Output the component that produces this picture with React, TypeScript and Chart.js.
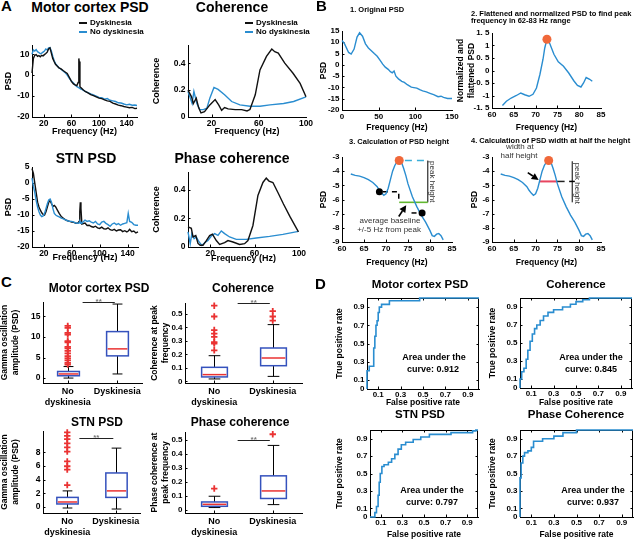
import React, { useEffect, useRef } from 'react';
import { Chart, registerables } from 'chart.js';

Chart.register(...registerables);

const FONT = '"Liberation Sans", Arial, Helvetica, sans-serif';
Chart.defaults.font.family = FONT;

const BLUE = '#2a8dd0';
const BLACK = '#111111';
const BOX_BLUE = '#3552bd';
const RED = '#ea3232';
const ORANGE = '#f0683a';

/* ---------------- Panel A data ---------------- */
const A_FREQ = [3,5,7,9,11,13,15,17,19,21,23,25,27,29,31,33,35,37,39,42,45,48,51,54,57,60,63,66,68,69.8,70.8,71.4,72.4,74,77,80,84,88,92,96,100,104,108,112,116,120,124,128,132,136,140,144,148,152,155];
const MC_DYSK = [1,8,9.5,9.8,9,9.3,8.8,9.5,9.2,9.8,10.3,11,12.5,13,10.5,8,6.5,5.2,4.5,3.5,3,2.2,1.5,0.8,-1,-3,-4.2,-4.8,-5,-3.5,8,6.5,-5.5,-6,-7,-7.8,-8.5,-9.3,-9.8,-10.4,-11,-11.2,-11.8,-12.3,-12.5,-13.4,-13.8,-14.3,-14.6,-15,-15.3,-15.6,-15.4,-16,-15.8];
const MC_NODYSK = [10,12,11.5,12.2,11.2,10.8,10.2,10.5,11,11.5,12.5,12,13,13.2,11.5,9,7,5.5,4.8,3.5,2.8,2,1.2,0,-1.5,-2.8,-3.8,-5,-5.5,-5.8,-6,-6.1,-6.4,-6.6,-7.2,-7.8,-8.4,-9,-9.4,-10,-10.6,-10.8,-11.5,-11.2,-12,-12.3,-12.6,-13.2,-13.3,-13.8,-14.2,-13.9,-14.4,-14.3,-14.5];

const STN_FREQ = [3,5,7,9,11,13,15,17,19,21,23,25,27,29,31,33,35,37,39,42,45,48,51,54,57,60,63,66,69,70.5,71.5,72.3,73.2,74.5,79,82,85,88,91,94,97,100,103,106,109,112,115,118,121,124,127,130,133,136,139,141,143,146,149,152,155];
const STN_DYSK = [4.5,3,0,-3,-6,-7.5,-8.5,-9.3,-9.8,-10,-9,-7.5,-6,-5.5,-6.5,-7.3,-7,-7.5,-8.3,-9.5,-10.5,-11,-11.5,-11.8,-12,-12.2,-12.3,-12.6,-12.5,-12,-9,-6,-8,-12.8,-12.5,-13.3,-13.2,-13.6,-13.8,-13.5,-14,-14.2,-13.8,-14.3,-14.4,-14,-14.6,-14.8,-14.5,-15,-14.7,-14.6,-15.2,-14.9,-15.3,-15,-14.5,-15.2,-15,-15.6,-15.3];
const STN_NODYSK = [1.5,-1,-3,-5.5,-7.5,-9,-10,-10.5,-10.3,-9.5,-8,-6.5,-5.3,-5,-6,-8,-9.5,-10,-10.3,-10.6,-11,-11.2,-11.5,-11.8,-12,-12,-12.2,-12.5,-12.6,-12.4,-12.2,-12.6,-12.3,-12.6,-11.6,-12,-11.8,-12.2,-12.5,-12,-12.8,-13,-12.2,-12,-12.6,-13,-13.5,-12.8,-12.5,-13,-12.7,-13.2,-12.8,-12.6,-12.4,-9.5,-12,-12.3,-13,-13.2,-13.2];

const COH_D_FREQ = [0,3,4.5,7,9,11,14,18.5,23,26,28.5,31,34,40,45.5,50,52.5,57,61,66.5,71,73.5,76.5,82,89,95,100];
const COH_D = [0.2,0.15,0.1,0.14,0.07,0.03,0.04,0.09,0.13,0.09,0.05,0.07,0.06,0.055,0.055,0.045,0.055,0.165,0.35,0.45,0.505,0.485,0.475,0.4,0.325,0.25,0.15];
const COH_N_FREQ = [0,2,3.5,5,7.5,10,13,16,18.5,22,25.5,31,37,44,52.5,61,69.5,81,89.5,100];
const COH_N = [0.19,0.14,0.1,0.19,0.1,0.055,0.055,0.065,0.14,0.22,0.205,0.165,0.115,0.09,0.08,0.08,0.09,0.1,0.115,0.15];

const PH_D_FREQ = [0,3,4.5,7,9,11,13.5,16.5,19.5,22,25.5,28.5,33,36,40.5,46.5,51,54,58.5,63,67.5,70.5,73,76.5,81,86,92,99.5];
const PH_D = [0.14,0.13,0.07,0.08,0.025,0.012,0.012,0.045,0.08,0.09,0.045,0.018,0.03,0.045,0.035,0.018,0.023,0.045,0.15,0.36,0.45,0.48,0.46,0.45,0.38,0.3,0.21,0.105];
const PH_N_FREQ = [0,2,3.5,5.5,7.5,10,12.5,15,18,21,24,27,30,33,37.5,43.5,52.5,61.5,73.5,85.5,99.5];
const PH_N = [0.105,0.023,0.093,0.058,0.07,0.035,0.011,0.03,0.046,0.077,0.093,0.081,0.112,0.093,0.07,0.053,0.053,0.063,0.074,0.088,0.109];

const A_PSD_XTICKS = [20,60,100,140];
const A_COH_XTICKS = [20,60,100];
const MC_YTICKS = [-20,-10,0,10];
const STN_YTICKS = [-20,-15,-10,-5,0,5];
const COH_YTICKS = [0,0.2,0.4];

/* ---------------- Panel B data ---------------- */
const B1_FREQ = [0,3.5,9,12.5,16.5,20.5,24,28,32,36,40,44,48,52,55.5,59,63,66,68.5,71,73.5,77,81.5,85,89,94.5,98,102,106,110,115,120,125,131,135,138.5,144,150];
const B1_PSD = [10.8,9.3,5.5,4.8,7,12.3,14.2,12.7,9.3,7.5,6.3,5,3.8,2,0.3,-1,-2,-3,-3.5,-2.7,-5,-6.2,-7.3,-7.8,-8.8,-9.9,-10.1,-10.3,-11,-11.5,-12,-12.6,-13.2,-14.1,-13.9,-14.4,-14.9,-14.9];
const B2_FREQ = [62.4,63.3,64.4,65.6,66.6,67.5,68.5,69.4,70.2,71,71.7,72.1,72.6,73.2,74.2,75.2,76.4,77.6,78.8,79.6,80.4,81,81.6,82.4,83];
const B2_VAL = [-1.4,-1.23,-1.1,-1.0,-0.9,-0.97,-1.03,-0.95,-0.7,-0.15,0.45,0.9,1.25,1.1,0.65,0.35,0.17,-0.1,-0.42,-0.6,-0.66,-0.5,-0.28,-0.35,-0.43];
const B2_PEAK = [72.6, 1.25];
const B34_FREQ = [62,63,64,65,66,67,68,68.5,69,69.5,70,70.5,71,71.5,72,72.5,73,73.5,74,74.5,75,76,77,78,79,80,80.5,81,81.5,82,82.5,83];
const B34_PSD = [-4.2,-4.3,-4.35,-4.45,-4.6,-4.8,-5.1,-5.35,-5.55,-5.7,-5.6,-5.2,-4.6,-4.0,-3.6,-3.35,-3.25,-3.35,-3.8,-4.3,-4.9,-5.8,-6.5,-7.1,-7.6,-8.2,-8.55,-8.6,-8.45,-8.4,-8.55,-8.85];
const B34_PEAK = [73, -3.25];
const B3_BASE_X = [68.5, 78.2];
const B3_BASE_Y = [-5.45, -6.95];
const B3_BAR_X = 79.5;
const B4_BAR_X = 78.4;
const B1_XTICKS = [0,50,100,150];
const B1_YTICKS = [-20,-15,-10,-5,0,5,10,15];
const B_ZOOM_XTICKS = [60,65,70,75,80,85];
const B2_YTICKS = [-1.5,-1,-0.5,0,0.5,1,1.5];
const B34_YTICKS = [-9,-8,-7,-6,-5,-4,-3];

/* ---------------- Panel C data: [low whisker, q1, median, q3, high whisker] ---------------- */
const CATEGORIES: (string | string[])[] = [['No', 'dyskinesia'], 'Dyskinesia'];
const C_MC_NO = [0, 0.56, 1.0, 1.6, 2.8];
const C_MC_NO_OUT = [3.3,3.7,4.3,4.8,5.3,6.0,6.6,7.2,7.6,8.7,9.0,10.6,11.0,12.2,12.7];
const C_MC_DYS = [1.0, 5.4, 7.1, 11.3, 18.0];
const C_MC_SIG = [1.3, 1.95, 18.4];
const C_COH_NO = [0.018, 0.033, 0.05, 0.104, 0.19];
const C_COH_NO_OUT = [0.23,0.28,0.29,0.33,0.353,0.38,0.48,0.56];
const C_COH_DYS = [0.037, 0.116, 0.173, 0.247, 0.42];
const C_COH_DYS_OUT = [0.45,0.48,0.52];
const C_COH_SIG = [1.4, 1.95, 0.58];
const C_STN_NO = [-0.15, 0.44, 0.73, 1.4, 2.35];
const C_STN_NO_OUT = [3.2,5.45,5.95,6.65,8.1,8.7,9.3,9.9,10.4,10.9];
const C_STN_DYS = [-0.3, 1.4, 2.35, 4.97, 8.6];
const C_STN_SIG = [1.25, 1.95, 10.1];
const C_PH_NO = [0.015, 0.024, 0.038, 0.055, 0.096];
const C_PH_NO_OUT = [0.151];
const C_PH_DYS = [0.036, 0.08, 0.134, 0.242, 0.46];
const C_PH_DYS_OUT = [0.54];
const C_PH_SIG = [1.4, 1.95, 0.5];
const C_MC_YTICKS = [0,5,10,15];
const C_COH_YTICKS = [0,0.1,0.2,0.3,0.4,0.5];
const C_STN_YTICKS = [0,2,4,6,8];

/* ---------------- Panel D data ---------------- */
const D_MC_FPR = [0,0,0.02,0.02,0.06,0.06,0.07,0.07,0.08,0.08,0.09,0.09,0.1,0.1,0.11,0.11,0.13,0.13,0.2,0.2,0.47,0.47,1];
const D_MC_TPR = [0,0.2,0.2,0.25,0.25,0.45,0.45,0.58,0.58,0.7,0.7,0.75,0.75,0.84,0.84,0.9,0.9,0.93,0.93,0.97,0.97,1,1];
const D_COH_FPR = [0,0,0.015,0.015,0.035,0.035,0.055,0.055,0.07,0.07,0.09,0.09,0.11,0.11,0.13,0.13,0.15,0.15,0.18,0.18,0.21,0.21,0.25,0.25,0.3,0.3,0.38,0.38,0.45,0.45,0.5,0.5,0.56,0.56,0.62,0.62,1];
const D_COH_TPR = [0,0.1,0.1,0.18,0.18,0.22,0.22,0.32,0.32,0.42,0.42,0.52,0.52,0.6,0.6,0.66,0.66,0.7,0.7,0.75,0.75,0.8,0.8,0.84,0.84,0.87,0.87,0.9,0.9,0.93,0.93,0.96,0.96,0.98,0.98,1,1];
const D_STN_FPR = [0,0.045,0.045,0.06,0.06,0.075,0.075,0.085,0.085,0.095,0.095,0.11,0.11,0.13,0.13,0.17,0.17,0.2,0.2,0.23,0.23,0.26,0.26,0.29,0.29,0.33,0.33,0.4,0.4,0.47,0.47,0.55,0.55,0.75,0.75,0.95,0.95,0.98,0.98,1];
const D_STN_TPR = [0,0,0.05,0.05,0.12,0.12,0.25,0.25,0.4,0.4,0.5,0.5,0.58,0.58,0.6,0.6,0.63,0.63,0.67,0.67,0.72,0.72,0.78,0.78,0.83,0.83,0.86,0.86,0.89,0.89,0.92,0.92,0.95,0.95,0.97,0.97,0.99,0.99,1,1];
const D_PH_FPR = [0,0,0.01,0.01,0.025,0.025,0.04,0.04,0.07,0.07,0.1,0.1,0.12,0.12,0.2,0.2,0.3,0.3,0.38,0.38,0.5,0.5,1];
const D_PH_TPR = [0,0.45,0.45,0.62,0.62,0.7,0.7,0.74,0.74,0.76,0.76,0.8,0.8,0.87,0.87,0.9,0.9,0.93,0.93,0.97,0.97,1,1];
const D_AUC = [0.912, 0.845, 0.797, 0.937];
const D_XTICKS = [0.1,0.3,0.5,0.7,0.9];
const D_YTICKS = [0,0.1,0.3,0.5,0.7,0.9];

/* ---------------- helpers ---------------- */
const pts = (xs: number[], ys: number[]) => xs.map((x, i) => ({ x, y: ys[i] }));
const lineDs = (xs: number[], ys: number[], color: string, width = 1.4) => ({
  data: pts(xs, ys), showLine: true, borderColor: color, borderWidth: width, pointRadius: 0, fill: false, tension: 0, clip: 3,
});
const dotDs = (xs: number[], ys: number[], color: string, r: number) => ({
  data: pts(xs, ys), showLine: false, pointRadius: r, pointBackgroundColor: color, pointBorderColor: color, pointBorderWidth: 0, clip: false,
});
const crossDs = (pos: number, vals: number[]) => ({
  data: vals.map((v) => ({ x: pos, y: v })), showLine: false, pointStyle: 'cross', pointRadius: 3.2,
  pointBorderColor: RED, pointBorderWidth: 1.8, clip: false,
});
const fmt1 = (v: number) => (v === 0 ? '0' : v.toFixed(1));
const fmtB2 = (v: number) => (Number.isInteger(v) ? String(v) : v.toFixed(1).replace('.', '. '));
const fmtCat = (v: number) => CATEGORIES[Math.round(v) - 1] ?? '';
const interpCross = (xs: number[], ys: number[], level: number, from: number, dir: number) => {
  let i = from;
  while (i + dir >= 0 && i + dir < xs.length) {
    const j = i + dir;
    if ((ys[i] - level) * (ys[j] - level) <= 0) {
      return xs[i] + ((level - ys[i]) / (ys[j] - ys[i])) * (xs[j] - xs[i]);
    }
    i = j;
  }
  return xs[i];
};

const inTicks = (box: boolean) => ({
  id: 'inTicks',
  beforeDatasetsDraw(chart: any) {
    const { ctx, chartArea: a, scales } = chart;
    const sx = scales.x, sy = scales.y;
    const L = 2.5;
    ctx.save();
    ctx.strokeStyle = '#000';
    ctx.lineWidth = 1;
    ctx.beginPath();
    for (const t of sx.ticks) {
      const p = Math.round(sx.getPixelForValue(t.value)) + 0.5;
      if (p <= a.left + 1 || p >= a.right - 1) continue;
      ctx.moveTo(p, a.bottom); ctx.lineTo(p, a.bottom - L);
      if (box) { ctx.moveTo(p, a.top); ctx.lineTo(p, a.top + L); }
    }
    for (const t of sy.ticks) {
      const p = Math.round(sy.getPixelForValue(t.value)) + 0.5;
      if (p <= a.top + 1 || p >= a.bottom - 1) continue;
      ctx.moveTo(a.left, p); ctx.lineTo(a.left + L, p);
      if (box) { ctx.moveTo(a.right, p); ctx.lineTo(a.right - L, p); }
    }
    if (box) {
      const r = Math.round(a.right) - 0.5;
      const t = Math.round(a.top) + 0.5;
      ctx.moveTo(a.left, t); ctx.lineTo(r, t); ctx.lineTo(r, a.bottom);
    }
    ctx.stroke();
    ctx.restore();
  },
});

const kit = (chart: any) => {
  const { ctx, scales: { x, y } } = chart;
  const P = (a: number, b: number) => [x.getPixelForValue(a), y.getPixelForValue(b)];
  const seg = (pts2: number[][], color: string, w: number, dash: number[] = []) => {
    ctx.save();
    ctx.strokeStyle = color; ctx.lineWidth = w; ctx.setLineDash(dash);
    ctx.beginPath();
    pts2.forEach(([a, b], i) => { const [px, py] = P(a, b); if (i === 0) ctx.moveTo(px, py); else ctx.lineTo(px, py); });
    ctx.stroke();
    ctx.restore();
  };
  const arrow = (x1: number, y1: number, x2: number, y2: number) => {
    const [a, b] = P(x1, y1); const [c, d] = P(x2, y2);
    const ang = Math.atan2(d - b, c - a);
    const L = 7, W = 3.5;
    const bx = c - L * Math.cos(ang), by = d - L * Math.sin(ang);
    ctx.save();
    ctx.strokeStyle = '#000'; ctx.fillStyle = '#000'; ctx.lineWidth = 1.6;
    ctx.beginPath(); ctx.moveTo(a, b); ctx.lineTo(bx, by); ctx.stroke();
    ctx.beginPath(); ctx.moveTo(c, d);
    ctx.lineTo(bx - W * Math.sin(ang), by + W * Math.cos(ang));
    ctx.lineTo(bx + W * Math.sin(ang), by - W * Math.cos(ang));
    ctx.closePath(); ctx.fill();
    ctx.restore();
  };
  const text = (s: string, a: number, b: number, rot = 0) => {
    const [px, py] = P(a, b);
    ctx.save();
    ctx.fillStyle = '#333'; ctx.font = `8px ${FONT}`; ctx.textAlign = 'center'; ctx.textBaseline = 'middle';
    ctx.translate(px, py); ctx.rotate(rot); ctx.fillText(s, 0, 0);
    ctx.restore();
  };
  return { seg, arrow, text };
};

const B3_BASELINE = (B3_BASE_Y[0] + B3_BASE_Y[1]) / 2;
const B4_HALF = (B34_PEAK[1] + B3_BASELINE) / 2;

const b3Plugin = {
  id: 'b3ann',
  beforeDatasetsDraw(chart: any) {
    const { seg } = kit(chart);
    const [px, py] = B34_PEAK;
    seg([[px + 1.3, py], [B3_BAR_X, py]], '#3aaed8', 1.6, [7, 5]);
    seg([[B3_BAR_X, py], [B3_BAR_X, B3_BASELINE]], '#000', 1);
    seg([[px, B3_BASELINE], [B3_BAR_X, B3_BASELINE]], '#62b830', 1.6);
    seg([[B3_BASE_X[0] + 0.8, B3_BASE_Y[0]], [px - 0.1, B3_BASE_Y[0]], [px - 0.1, B3_BASE_Y[0] - 0.5]], '#000', 1.5, [5, 4]);
    seg([[B3_BASE_X[1] - 2.4, B3_BASE_Y[1]], [B3_BASE_X[1] - 0.4, B3_BASE_Y[1]]], '#000', 1.5, [5, 4]);
  },
  afterDatasetsDraw(chart: any) {
    const { arrow, text } = kit(chart);
    arrow(72.9, -7.2, 74.6, -6.4);
    text('peak height', B3_BAR_X + 1.1, -4.75, Math.PI / 2);
    text('average baseline', 70.9, -7.47);
    text('+/-5 Hz from peak', 70.7, -8.12);
  },
};

const b4Plugin = {
  id: 'b4ann',
  beforeDatasetsDraw(chart: any) {
    const { seg } = kit(chart);
    const peakIdx = B34_FREQ.indexOf(B34_PEAK[0]);
    const left = interpCross(B34_FREQ, B34_PSD, B4_HALF, peakIdx, -1);
    const right = interpCross(B34_FREQ, B34_PSD, B4_HALF, peakIdx, 1);
    seg([[left, B4_HALF], [right, B4_HALF]], '#e8455f', 2);
    seg([[right, B4_HALF], [right + 1.8, B4_HALF]], '#222', 1.5);
    seg([[B4_BAR_X, B34_PEAK[1] - 0.05], [B4_BAR_X, B3_BASELINE]], '#000', 1);
    seg([[B4_BAR_X - 0.7, B4_HALF], [B4_BAR_X + 0.6, B4_HALF]], '#000', 1.5);
  },
  afterDatasetsDraw(chart: any) {
    const { arrow, text } = kit(chart);
    arrow(68.2, -4.1, 70.7, -4.62);
    text('width at', 66.4, -2.25);
    text('half height', 66.2, -2.88);
    text('peak height', B4_BAR_X + 1.2, -4.86, Math.PI / 2);
  },
};

const BOX_HALF = 0.22;
const CAP_HALF = 0.1;
const boxPlugin = (groups: { pos: number; st: number[] }[], sig: number[]) => ({
  id: 'boxes',
  beforeDatasetsDraw(chart: any) {
    const { ctx, scales: { x, y } } = chart;
    const X = (v: number) => x.getPixelForValue(v);
    const Y = (v: number) => y.getPixelForValue(v);
    ctx.save();
    for (const g of groups) {
      const [lo, q1, med, q3, hi] = g.st;
      const c = Math.round(X(g.pos)) + 0.5;
      const hw = X(g.pos + BOX_HALF) - X(g.pos);
      const cw = X(g.pos + CAP_HALF) - X(g.pos);
      ctx.strokeStyle = '#000'; ctx.lineWidth = 1;
      ctx.beginPath();
      ctx.moveTo(c, Y(q3)); ctx.lineTo(c, Y(hi));
      ctx.moveTo(c - cw, Y(hi)); ctx.lineTo(c + cw, Y(hi));
      ctx.moveTo(c, Y(q1)); ctx.lineTo(c, Y(lo));
      ctx.moveTo(c - cw, Y(lo)); ctx.lineTo(c + cw, Y(lo));
      ctx.stroke();
      ctx.strokeStyle = BOX_BLUE; ctx.lineWidth = 1.5;
      ctx.strokeRect(c - hw, Y(q3), 2 * hw, Y(q1) - Y(q3));
      ctx.strokeStyle = RED; ctx.lineWidth = 1.5;
      ctx.beginPath(); ctx.moveTo(c - hw + 1, Y(med)); ctx.lineTo(c + hw - 1, Y(med)); ctx.stroke();
    }
    const [s1, s2, sv] = sig;
    const sy = Math.round(Y(sv)) + 0.5;
    ctx.strokeStyle = '#222'; ctx.lineWidth = 1;
    ctx.beginPath(); ctx.moveTo(X(s1), sy); ctx.lineTo(X(s2), sy); ctx.stroke();
    ctx.fillStyle = '#777'; ctx.font = `bold 8px ${FONT}`; ctx.textAlign = 'center'; ctx.textBaseline = 'middle';
    ctx.fillText('**', (X(s1) + X(s2)) / 2, sy - 0.5);
    ctx.restore();
  },
});

/* ---------------- chart panel ---------------- */
type R4 = [number, number, number, number];
interface Axis {
  min: number; max: number; ticks: number[];
  fmt?: (v: number) => string | string[];
  title?: string | string[]; tpos?: number; ts?: number; tts?: number; pad?: number;
}
interface PanelCfg { canvas: R4; area: R4; x: Axis; y: Axis; datasets: any[]; plugins?: any[]; box?: boolean; }

function ChartPanel({ cfg }: { cfg: PanelCfg }) {
  const ref = useRef<HTMLCanvasElement | null>(null);
  const { canvas, area } = cfg;
  const W = canvas[2] - canvas[0];
  const H = canvas[3] - canvas[1];
  useEffect(() => {
    const yW = area[0] - canvas[0];
    const xH = canvas[3] - area[3];
    const titleOpt = (a: Axis, isX: boolean) => {
      if (!a.title) return { display: false };
      const size = a.tts ?? 8.5;
      const lh = size * 1.2;
      const pad = isX
        ? { top: 0, bottom: Math.max(0, canvas[3] - (a.tpos ?? 0) - lh / 2) }
        : { top: Math.max(0, (a.tpos ?? 0) - canvas[0] - lh / 2), bottom: 0 };
      return { display: true, text: a.title, color: '#000', font: { family: FONT, size, weight: 'bold', lineHeight: 1.2 }, padding: pad };
    };
    const axisOpt = (a: Axis, isX: boolean) => ({
      type: 'linear', position: isX ? 'bottom' : 'left', min: a.min, max: a.max,
      afterBuildTicks: (s: any) => { s.ticks = a.ticks.map((v) => ({ value: v })); },
      afterFit: (s: any) => { if (isX) s.height = xH; else s.width = yW; },
      grid: { display: false, drawTicks: false, tickLength: 0 },
      border: { display: true, color: '#000', width: 1 },
      ticks: {
        autoSkip: false, maxRotation: 0, minRotation: 0, padding: a.pad ?? (isX ? 1.5 : 2.5), color: '#000',
        font: { family: FONT, size: a.ts ?? 8.5, weight: 'bold', lineHeight: 1.2 },
        callback: (v: any) => (a.fmt ? a.fmt(Number(v)) : String(v)),
      },
      title: titleOpt(a, isX),
    });
    const chart = new Chart(ref.current as HTMLCanvasElement, {
      type: 'scatter',
      data: { datasets: cfg.datasets },
      options: {
        responsive: false, animation: false, devicePixelRatio: 1, events: [],
        layout: { padding: { left: 0, top: area[1] - canvas[1], right: canvas[2] - area[2], bottom: 0 } },
        plugins: { legend: { display: false }, tooltip: { enabled: false }, title: { display: false } },
        scales: { x: axisOpt(cfg.x, true), y: axisOpt(cfg.y, false) },
      } as any,
      plugins: [inTicks(cfg.box ?? false), ...(cfg.plugins ?? [])],
    });
    return () => chart.destroy();
  }, []);
  return (
    <canvas ref={ref} width={W} height={H}
      style={{ position: 'absolute', left: canvas[0], top: canvas[1], width: W, height: H }} />
  );
}

function Txt({ x, y, s, t, a = 'c', w = 700, c = '#000' }: { x: number; y: number; s: number; t: string; a?: string; w?: number; c?: string }) {
  return (
    <div style={{
      position: 'absolute', left: x, top: y - 0.49 * s, fontFamily: FONT, fontSize: s, lineHeight: `${s}px`,
      fontWeight: w, color: c, whiteSpace: 'nowrap', transform: a === 'c' ? 'translateX(-50%)' : undefined,
    }}>{t}</div>
  );
}

function LegendLine({ x, y, w, color }: { x: number; y: number; w: number; color: string }) {
  return <div style={{ position: 'absolute', left: x, top: y - 0.75, width: w, height: 1.5, background: color }} />;
}

export default function App() {
  const freqX = (tpos: number): Axis => ({ min: 3, max: 155, ticks: A_PSD_XTICKS, title: 'Frequency (Hz)', tpos, tts: 9 });
  const cohX = (tpos: number): Axis => ({ min: 0, max: 100, ticks: A_COH_XTICKS, title: 'Frequency (Hz)', tpos, tts: 9 });
  const zoomX = (tpos: number): Axis => ({ min: 60, max: 85, ticks: B_ZOOM_XTICKS, title: 'Frequency (Hz)', tpos, ts: 8 });
  const catX: Axis = { min: 0.5, max: 2.5, ticks: [1, 2], fmt: fmtCat, ts: 9, pad: 3 };
  const rocX = (tpos: number): Axis => ({ min: 0, max: 1, ticks: D_XTICKS, fmt: fmt1, title: 'False positive rate', tpos, ts: 8, pad: 0.5 });
  const rocY = (tpos: number): Axis => ({ min: 0, max: 1, ticks: D_YTICKS, fmt: fmt1, title: 'True positive rate', tpos, ts: 8 });
  const boxes = (no: number[], dys: number[]) => [{ pos: 1, st: no }, { pos: 2, st: dys }];

  const panels: PanelCfg[] = [
    // A
    { canvas: [0, 36, 152, 140], area: [32, 45, 137, 117], x: freqX(132),
      y: { min: -20, max: 14.4, ticks: MC_YTICKS, title: 'PSD', tpos: 8.5, tts: 9 },
      datasets: [lineDs(A_FREQ, MC_DYSK, BLACK), lineDs(A_FREQ, MC_NODYSK, BLUE)] },
    { canvas: [150, 36, 322, 140], area: [188, 45, 306, 117], x: cohX(132),
      y: { min: 0, max: 0.535, ticks: COH_YTICKS, fmt: fmt1, title: 'Coherence', tpos: 157, tts: 9 },
      datasets: [lineDs(COH_D_FREQ, COH_D, BLACK), lineDs(COH_N_FREQ, COH_N, BLUE)] },
    { canvas: [0, 158, 152, 266], area: [32, 167, 138, 247], x: freqX(258),
      y: { min: -20, max: 5, ticks: STN_YTICKS, title: 'PSD', tpos: 8.5, tts: 9 },
      datasets: [lineDs(STN_FREQ, STN_NODYSK, BLUE), lineDs(STN_FREQ, STN_DYSK, BLACK)] },
    { canvas: [150, 160, 322, 266], area: [188, 172, 299, 247], x: cohX(259),
      y: { min: 0, max: 0.523, ticks: COH_YTICKS, fmt: fmt1, title: 'Coherence', tpos: 157, tts: 9 },
      datasets: [lineDs(PH_D_FREQ, PH_D, BLACK), lineDs(PH_N_FREQ, PH_N, BLUE)] },
    // B
    { canvas: [318, 22, 466, 136], area: [342, 31, 452, 110],
      x: { min: 0, max: 150, ticks: B1_XTICKS, title: 'Frequency (Hz)', tpos: 128, ts: 8 },
      y: { min: -20, max: 15, ticks: B1_YTICKS, title: 'PSD', tpos: 324, ts: 8 },
      datasets: [lineDs(B1_FREQ, B1_PSD, BLUE)] },
    { canvas: [454, 24, 615, 136], area: [492, 33, 601, 108], x: zoomX(128),
      y: { min: -1.5, max: 1.5, ticks: B2_YTICKS, fmt: fmtB2, title: ['Normalized and', 'flattened PSD'], tpos: 461, ts: 8 },
      datasets: [dotDs([B2_PEAK[0]], [B2_PEAK[1]], ORANGE, 4.5), lineDs(B2_FREQ, B2_VAL, BLUE)] },
    { canvas: [318, 148, 466, 270], area: [342, 157, 452, 242], x: zoomX(263),
      y: { min: -9, max: -3, ticks: B34_YTICKS, title: 'PSD', tpos: 324, ts: 8 },
      datasets: [
        dotDs([B34_PEAK[0]], [B34_PEAK[1]], ORANGE, 4.5),
        dotDs(B3_BASE_X, B3_BASE_Y, '#000', 3.5),
        lineDs(B34_FREQ, B34_PSD, BLUE),
      ],
      plugins: [b3Plugin] },
    { canvas: [468, 136, 615, 270], area: [492, 157, 601, 242], x: zoomX(263),
      y: { min: -9, max: -3, ticks: B34_YTICKS, title: 'PSD', tpos: 475, ts: 8 },
      datasets: [dotDs([B34_PEAK[0]], [B34_PEAK[1]], ORANGE, 4.5), lineDs(B34_FREQ, B34_PSD, BLUE)],
      plugins: [b4Plugin] },
    // C
    { canvas: [0, 292, 156, 410], area: [43, 302, 142, 383], x: catX,
      y: { min: -1.2, max: 18.5, ticks: C_MC_YTICKS, title: ['Gamma oscillation', 'amplitude (PSD)'], tpos: 5, ts: 8.5 },
      datasets: [crossDs(1, C_MC_NO_OUT)], plugins: [boxPlugin(boxes(C_MC_NO, C_MC_DYS), C_MC_SIG)] },
    { canvas: [148, 294, 318, 410], area: [185, 303, 302, 383], x: catX,
      y: { min: -0.012, max: 0.58, ticks: C_COH_YTICKS, fmt: fmt1, title: ['Coherence at peak', 'frequency'], tpos: 155, ts: 8 },
      datasets: [crossDs(1, C_COH_NO_OUT), crossDs(2, C_COH_DYS_OUT)], plugins: [boxPlugin(boxes(C_COH_NO, C_COH_DYS), C_COH_SIG)] },
    { canvas: [0, 420, 156, 540], area: [43, 431, 140, 513], x: catX,
      y: { min: -0.88, max: 11.1, ticks: C_STN_YTICKS, title: ['Gamma oscillation', 'amplitude (PSD)'], tpos: 5, ts: 8.5 },
      datasets: [crossDs(1, C_STN_NO_OUT)], plugins: [boxPlugin(boxes(C_STN_NO, C_STN_DYS), C_STN_SIG)] },
    { canvas: [148, 420, 318, 540], area: [185, 432, 302, 513], x: catX,
      y: { min: -0.024, max: 0.556, ticks: C_COH_YTICKS, fmt: fmt1, title: ['Phase coherence at', 'peak frequency'], tpos: 155, ts: 8 },
      datasets: [crossDs(1, C_PH_NO_OUT), crossDs(2, C_PH_DYS_OUT)], plugins: [boxPlugin(boxes(C_PH_NO, C_PH_DYS), C_PH_SIG)] },
    // D
    { canvas: [334, 288, 492, 410], area: [367, 298, 479, 389], x: rocX(402.5), y: rocY(340), box: true,
      datasets: [lineDs(D_MC_FPR, D_MC_TPR, BLUE, 1.6)] },
    { canvas: [487, 288, 640, 410], area: [520, 298, 632, 388], x: rocX(403), y: rocY(493), box: true,
      datasets: [lineDs(D_COH_FPR, D_COH_TPR, BLUE, 1.6)] },
    { canvas: [334, 420, 492, 540], area: [370, 430, 478, 517], x: rocX(536), y: rocY(340), box: true,
      datasets: [lineDs(D_STN_FPR, D_STN_TPR, BLUE, 1.6)] },
    { canvas: [487, 420, 640, 540], area: [520, 430, 633, 517], x: rocX(536), y: rocY(493), box: true,
      datasets: [lineDs(D_PH_FPR, D_PH_TPR, BLUE, 1.6)] },
  ];

  const auc = (v: number) => `curve: ${v.toFixed(3)}`;

  return (
    <div style={{ position: 'fixed', left: 0, top: 0, width: 640, height: 540, background: '#fff', overflow: 'hidden' }}>
      {panels.map((p, i) => <ChartPanel key={i} cfg={p} />)}

      {/* panel letters */}
      <Txt x={1} y={5} s={15} t="A" a="l" />
      <Txt x={316} y={5} s={15} t="B" a="l" />
      <Txt x={1} y={281} s={15} t="C" a="l" />
      <Txt x={315} y={283} s={15} t="D" a="l" />

      {/* A titles & legends */}
      <Txt x={90} y={6.5} s={14} t="Motor cortex PSD" />
      <Txt x={232} y={6.5} s={14} t="Coherence" />
      <Txt x={86} y={158} s={14} t="STN PSD" />
      <Txt x={232} y={158} s={14} t="Phase coherence" />
      <LegendLine x={79} y={23} w={8} color={BLACK} />
      <LegendLine x={79} y={32} w={8} color={BLUE} />
      <Txt x={90} y={23} s={8} t="Dyskinesia" a="l" />
      <Txt x={90} y={32} s={8} t="No dyskinesia" a="l" />
      <LegendLine x={245} y={23} w={8} color={BLACK} />
      <LegendLine x={245} y={32} w={8} color={BLUE} />
      <Txt x={256} y={23} s={8} t="Dyskinesia" a="l" />
      <Txt x={256} y={32} s={8} t="No dyskinesia" a="l" />

      {/* B titles */}
      <Txt x={350} y={10} s={7.5} t="1. Original PSD" a="l" />
      <Txt x={471} y={13.3} s={7.5} t="2. Flattened and normalized PSD to find peak" a="l" />
      <Txt x={471} y={20.7} s={7.5} t="frequency in 62-83 Hz range" a="l" />
      <Txt x={349} y={142} s={7.5} t="3. Calculation of PSD height" a="l" />
      <Txt x={471} y={141} s={7.5} t="4. Calculation of PSD width at half the height" a="l" />

      {/* C titles */}
      <Txt x={99} y={288} s={12} t="Motor cortex PSD" />
      <Txt x={243} y={288} s={12} t="Coherence" />
      <Txt x={97} y={421.7} s={12} t="STN PSD" />
      <Txt x={240} y={421.7} s={12} t="Phase coherence" />

      {/* D titles & AUC */}
      <Txt x={420} y={285} s={11.5} t="Motor cortex PSD" />
      <Txt x={576} y={285} s={11.5} t="Coherence" />
      <Txt x={420} y={415} s={11.5} t="STN PSD" />
      <Txt x={576} y={415} s={11.5} t="Phase Coherence" />
      <Txt x={434} y={357} s={9} t="Area under the" />
      <Txt x={433} y={369} s={9} t={auc(D_AUC[0])} />
      <Txt x={591} y={357} s={9} t="Area under the" />
      <Txt x={591} y={369} s={9} t={auc(D_AUC[1])} />
      <Txt x={432} y={490.7} s={9} t="Area under the" />
      <Txt x={432} y={502} s={9} t={auc(D_AUC[2])} />
      <Txt x={593} y={490.7} s={9} t="Area under the" />
      <Txt x={593} y={502} s={9} t={auc(D_AUC[3])} />
    </div>
  );
}
